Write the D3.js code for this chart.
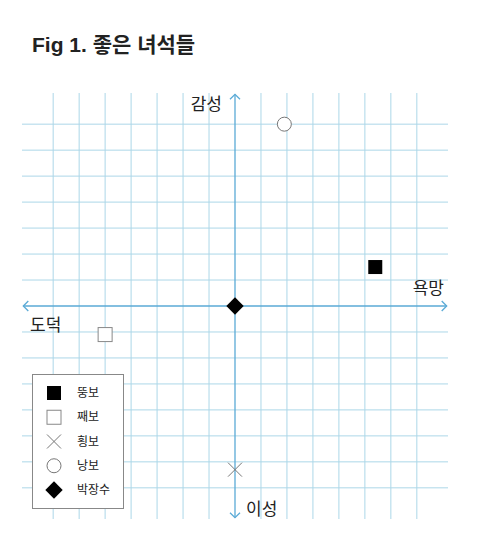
<!DOCTYPE html>
<html>
<head>
<meta charset="utf-8">
<script src="https://cdn.jsdelivr.net/npm/d3@7"></script>
<style>
  body { margin: 0; background: #fff; }
  svg text { font-family: "Noto Sans CJK KR", "Noto Sans", sans-serif; fill: #222; }
</style>
</head>
<body>
<svg id="chart" width="480" height="557"></svg>
<script>
// 데이터
const categories = ["뚱보", "째보", "횡보", "낭보", "박장수"];
const xValues = [5.4, -5.0, 0, 1.9, 0];   // 도덕(-) ~ 욕망(+)
const yValues = [1.5, -1.1, -6.3, 7.0, 0]; // 이성(-) ~ 감성(+)
const gridTicks = [-7, -6, -5, -4, -3, -2, -1, 1, 2, 3, 4, 5, 6, 7];
const axisLabels = ["감성", "이성", "욕망", "도덕"];
const title = "Fig 1. 좋은 녀석들";

const svg = d3.select("#chart");

const x = d3.scaleLinear().domain([-8.2, 8.2]).range([22, 448]);
const y = d3.scaleLinear().domain([-8.2, 8.2]).range([519, 93]);

const gridColor = "#acd7e8";
const axisColor = "#5aaad6";

// 제목
svg.append("text")
    .attr("x", 32)
    .attr("y", 52)
    .attr("font-size", 21)
    .attr("font-weight", 600)
    .style("font-family", "'Liberation Sans', 'Noto Sans CJK KR', sans-serif")
    .text(title);

// 격자
const grid = svg.append("g");
grid.selectAll("line.v")
    .data(gridTicks)
    .enter().append("line")
    .attr("class", "v")
    .attr("x1", d => x(d)).attr("x2", d => x(d))
    .attr("y1", y(8.2)).attr("y2", y(-8.2))
    .attr("stroke", gridColor)
    .attr("stroke-width", 1);
grid.selectAll("line.h")
    .data(gridTicks)
    .enter().append("line")
    .attr("class", "h")
    .attr("y1", d => y(d)).attr("y2", d => y(d))
    .attr("x1", x(-8.2)).attr("x2", x(8.2))
    .attr("stroke", gridColor)
    .attr("stroke-width", 1);

// 축 (양쪽 화살표)
const axes = svg.append("g")
    .attr("stroke", axisColor)
    .attr("stroke-width", 1.3)
    .attr("fill", "none");
axes.append("line")
    .attr("x1", x(-8.15)).attr("x2", x(8.15))
    .attr("y1", y(0)).attr("y2", y(0));
axes.append("line")
    .attr("x1", x(0)).attr("x2", x(0))
    .attr("y1", y(8.15)).attr("y2", y(-8.15));

const head = 5;
axes.append("path") // 오른쪽
    .attr("d", `M${x(8.15) - head},${y(0) - head}L${x(8.15)},${y(0)}L${x(8.15) - head},${y(0) + head}`);
axes.append("path") // 왼쪽
    .attr("d", `M${x(-8.15) + head},${y(0) - head}L${x(-8.15)},${y(0)}L${x(-8.15) + head},${y(0) + head}`);
axes.append("path") // 위
    .attr("d", `M${x(0) - head},${y(8.15) + head}L${x(0)},${y(8.15)}L${x(0) + head},${y(8.15) + head}`);
axes.append("path") // 아래
    .attr("d", `M${x(0) - head},${y(-8.15) - head}L${x(0)},${y(-8.15)}L${x(0) + head},${y(-8.15) - head}`);

// 축 라벨
const labelPos = [
    { x: x(0) - 13, y: 110, anchor: "end" },
    { x: x(0) + 11, y: 515, anchor: "start" },
    { x: 444, y: 294, anchor: "end" },
    { x: 30, y: 331, anchor: "start" }
];
svg.selectAll("text.axis-label")
    .data(axisLabels)
    .enter().append("text")
    .attr("class", "axis-label")
    .attr("x", (d, i) => labelPos[i].x)
    .attr("y", (d, i) => labelPos[i].y)
    .attr("text-anchor", (d, i) => labelPos[i].anchor)
    .attr("font-size", 17)
    .text(d => d);

// 모양별 스타일
function drawMark(sel, i, s) {
    if (i === 0) {
        sel.append("rect").attr("x", -s / 2).attr("y", -s / 2).attr("width", s).attr("height", s)
            .attr("fill", "#000");
    } else if (i === 1) {
        sel.append("rect").attr("x", -s / 2).attr("y", -s / 2).attr("width", s).attr("height", s)
            .attr("fill", "#fff").attr("stroke", "#888").attr("stroke-width", 1);
    } else if (i === 2) {
        sel.append("path")
            .attr("d", `M${-s / 2},${-s / 2}L${s / 2},${s / 2}M${s / 2},${-s / 2}L${-s / 2},${s / 2}`)
            .attr("stroke", "#777").attr("stroke-width", 1).attr("fill", "none");
    } else if (i === 3) {
        sel.append("circle").attr("r", s / 2)
            .attr("fill", "#fff").attr("stroke", "#777").attr("stroke-width", 1);
    } else {
        const h = s * 0.62;
        sel.append("path")
            .attr("d", `M0,${-h}L${h},0L0,${h}L${-h},0Z`)
            .attr("fill", "#000");
    }
}

// 점
svg.append("g").selectAll("g")
    .data(categories)
    .enter().append("g")
    .attr("transform", (d, i) => `translate(${x(xValues[i])},${y(yValues[i])})`)
    .each(function (d, i) { drawMark(d3.select(this), i, 14); });

// 범례
const legend = svg.append("g");
legend.append("rect")
    .attr("x", 32.5).attr("y", 374.5)
    .attr("width", 91).attr("height", 134)
    .attr("fill", "#fff")
    .attr("stroke", "#888")
    .attr("stroke-width", 1);

const rowY = d3.scalePoint().domain(categories).range([393, 490]);
const rows = legend.selectAll("g.row")
    .data(categories)
    .enter().append("g")
    .attr("class", "row")
    .attr("transform", d => `translate(0,${rowY(d)})`);
rows.each(function (d, i) {
    const g = d3.select(this).append("g").attr("transform", "translate(54,0)");
    drawMark(g, i, 14);
});
rows.append("text")
    .attr("x", 77)
    .attr("dy", "0.35em")
    .attr("font-size", 12)
    .attr("fill", "#333")
    .text(d => d);
</script>
</body>
</html>
